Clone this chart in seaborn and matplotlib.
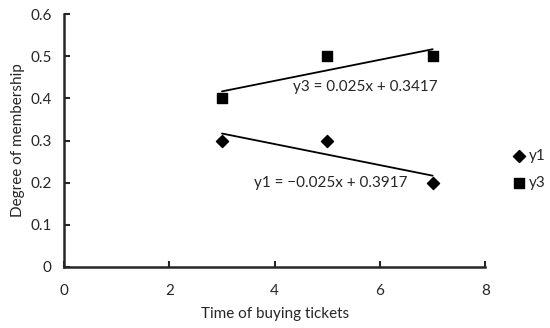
import pandas as pd
import matplotlib.pyplot as plt
import seaborn as sns

# values
times = [3, 5, 7]
y1 = [0.3, 0.3, 0.2]
y3 = [0.4, 0.5, 0.5]

df = pd.DataFrame({"time": times, "y1": y1, "y3": y3})

sns.set_style("ticks")
plt.rcParams['font.family'] = ['Lato', 'DejaVu Sans']

fig = plt.figure(figsize=(5.5, 3.28), dpi=100)
ax = fig.add_axes([0.1164, 0.186, 0.766, 0.771])

# markers plus linear trend lines
sns.regplot(data=df, x="time", y="y1", ax=ax, ci=None, marker="D", label="y1",
            scatter_kws={"s": 38, "color": "black", "alpha": 1},
            line_kws={"color": "black", "lw": 1.3})
sns.regplot(data=df, x="time", y="y3", ax=ax, ci=None, marker="s", label="y3",
            scatter_kws={"s": 50, "color": "black", "alpha": 1},
            line_kws={"color": "black", "lw": 1.3})

ax.text(5.72, 0.427, "y3 = 0.025x + 0.3417", ha="center", va="center", fontsize=11)
ax.text(5.06, 0.199, "y1 = \u22120.025x + 0.3917", ha="center", va="center", fontsize=11)

ax.set_xlim(0, 8)
ax.set_ylim(0, 0.6)
ax.set_xticks([0, 2, 4, 6, 8])
ax.set_yticks([0, 0.1, 0.2, 0.3, 0.4, 0.5, 0.6])
ax.set_yticklabels(["0", "0.1", "0.2", "0.3", "0.4", "0.5", "0.6"])
ax.tick_params(direction="in", length=4, width=1.5, labelsize=11)
ax.tick_params(axis="y", pad=9)
ax.tick_params(axis="x", pad=12)
for side in ["left", "bottom"]:
    ax.spines[side].set_linewidth(1.8)
sns.despine(ax=ax)

ax.set_xlabel("Time of buying tickets", fontsize=11, labelpad=7)
ax.set_ylabel("Degree of membership", fontsize=11)

handles, labels = ax.get_legend_handles_labels()
keep = [i for i, l in enumerate(labels) if l in ("y1", "y3")]
ax.legend([handles[i] for i in keep], [labels[i] for i in keep],
          loc="center left", bbox_to_anchor=(1.03, 0.385), frameon=False,
          fontsize=11, handletextpad=0.1, labelspacing=0.85, handlelength=1.0)

fig.savefig("out.png", dpi=100)
